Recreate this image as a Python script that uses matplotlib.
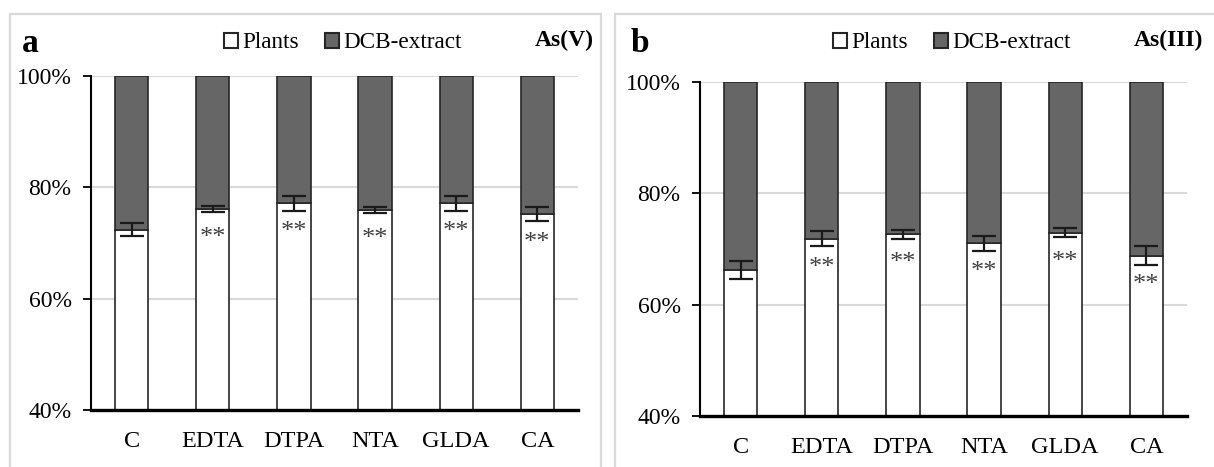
import numpy as np
import matplotlib
matplotlib.use("Agg")
import matplotlib.pyplot as plt
from matplotlib.patches import Patch, Rectangle

plt.rcParams['font.family'] = ['Liberation Serif', 'DejaVu Serif']

categories = ["C", "EDTA", "DTPA", "NTA", "GLDA", "CA"]

# share (%) of As held in plants, rest is DCB-extract
plants_v = [72.35, 76.1, 77.1, 75.9, 77.1, 75.2]
err_v = [1.2, 0.6, 1.3, 0.5, 1.3, 1.3]
plants_iii = [66.25, 71.8, 72.6, 71.0, 72.9, 68.8]
err_iii = [1.6, 1.35, 0.75, 1.35, 0.85, 1.65]
signif_v = ["", "**", "**", "**", "**", "**"]
signif_iii = ["", "**", "**", "**", "**", "**"]

yticks = [40, 60, 80, 100]
ytick_labels = ["40%", "60%", "80%", "100%"]

W, H = 1214, 467
fig = plt.figure(figsize=(W / 100, H / 100), dpi=100)

dark = "#666666"
edge = "#262626"
grid = "#d9d9d9"


def panel(left_px, top_px, bottom_px, plants, err, signif, letter, species, shift):
    ax = fig.add_axes([left_px / W, 1 - bottom_px / H, 487 / W, (bottom_px - top_px) / H])
    x = np.arange(len(categories))
    plants = np.array(plants)
    ax.bar(x, plants - 40, bottom=40, width=0.41, color="white", edgecolor=edge, linewidth=1.2, zorder=3)
    ax.bar(x, 100 - plants, bottom=plants, width=0.41, color=dark, edgecolor=edge, linewidth=1.2, zorder=3)
    ax.errorbar(x, plants, yerr=err, fmt="none", ecolor="#1a1a1a", elinewidth=1.6,
                capsize=8.5, capthick=1.6, zorder=4)
    for xi, v, s in zip(x, plants, signif):
        if s:
            ax.text(xi, v - 5.2, s, ha="center", va="center", fontsize=19, color="#404040", zorder=5)

    ax.set_xlim(-0.5, 5.5)
    ax.set_ylim(40, 100)
    ax.set_yticks(yticks)
    ax.set_yticklabels(ytick_labels, fontsize=17)
    ax.set_xticks(x)
    ax.set_xticklabels(categories, fontsize=17.5)
    ax.tick_params(axis="x", length=0, pad=15)
    ax.tick_params(axis="y", length=6, width=1.3, pad=8, direction="out")
    ax.yaxis.grid(True, color=grid, linewidth=1.5, zorder=0)
    ax.set_axisbelow(True)
    for s in ["top", "right"]:
        ax.spines[s].set_visible(False)
    ax.spines["left"].set_linewidth(1.5)
    ax.spines["bottom"].set_linewidth(2.4)
    ax.spines["bottom"].set_zorder(6)

    # panel letter, legend and species label
    fig.text((22 + shift) / W, 1 - 43 / H, letter, fontsize=24, fontweight="bold", ha="left", va="center")
    fig.text((594 + shift) / W, 1 - 40 / H, species, fontsize=17, fontweight="bold", ha="right", va="center")
    handles = [Patch(facecolor="white", edgecolor=edge, linewidth=1.5, label="Plants"),
               Patch(facecolor=dark, edgecolor=edge, linewidth=1.5, label="DCB-extract")]
    fig.legend(handles=handles, loc="center left", bbox_to_anchor=((224 + shift) / W, 1 - 43 / H),
               ncol=2, frameon=False, fontsize=16.7, handlelength=0.6, handleheight=0.6,
               handletextpad=0.2, columnspacing=1.1, borderpad=0, borderaxespad=0)
    return ax


panel(91, 75.7, 410, plants_v, err_v, signif_v, "a", "As(V)", 0)
panel(700, 81.7, 416, plants_iii, err_iii, signif_iii, "b", "As(III)", 609)

# light frames around the two panels
fig.patches.append(Rectangle((10 / W, -0.1), 591 / W, 1.1 - 14 / H, transform=fig.transFigure,
                             fill=False, edgecolor=grid, linewidth=1.6))
fig.patches.append(Rectangle((615 / W, -0.1), 700 / W, 1.1 - 14 / H, transform=fig.transFigure,
                             fill=False, edgecolor=grid, linewidth=1.6))

fig.savefig("out.png", dpi=100)
